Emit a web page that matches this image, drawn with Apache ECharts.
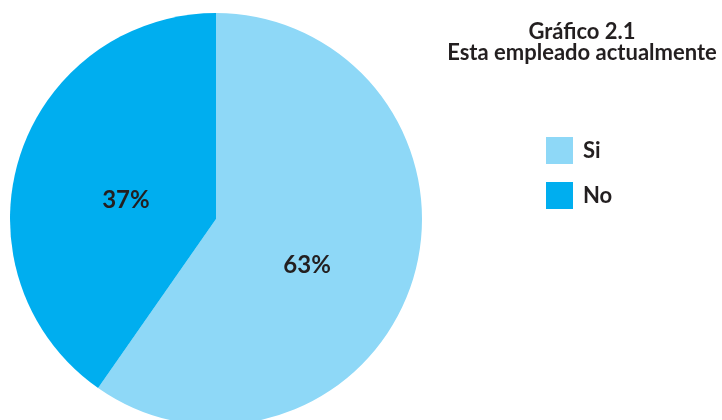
<!DOCTYPE html>
<html>
<head>
<meta charset="utf-8">
<script src="https://cdn.jsdelivr.net/npm/echarts@6/dist/echarts.min.js"></script>
<style>html,body{margin:0;padding:0;background:#fff}#c{width:722px;height:420px}</style>
</head>
<body>
<div id="c"></div>
<script>
// Data
const categories = ['Si', 'No'];
const sliceValues = [59.7, 40.3];          // slice sizes as drawn
const percentLabels = ['63%', '37%'];      // printed labels
const titleLines = ['Gráfico 2.1', 'Esta empleado actualmente'];

const colors = ['#8ED8F7', '#00AEEF'];
const labelOffsets = [[-10, 14], [11, 13]];
const FONT = 'Lato';

const chart = echarts.init(document.getElementById('c'), null, {renderer: 'canvas'});
chart.setOption({
  animation: false,
  title: {
    text: titleLines.join('\n'),
    left: 577,
    top: 16,
    textAlign: 'center',
    textStyle: {fontFamily: FONT, fontWeight: 'bold', fontSize: 22, lineHeight: 21, color: '#231F20'}
  },
  legend: {
    orient: 'vertical',
    left: 541,
    top: 132,
    itemWidth: 27,
    itemHeight: 27,
    itemGap: 18,
    icon: 'rect',
    data: categories,
    textStyle: {fontFamily: FONT, fontWeight: 'bold', fontSize: 22, color: '#231F20', padding: [0, 0, 0, 5]},
    selectedMode: false
  },
  series: [{
    type: 'pie',
    center: [216, 219],
    radius: 206,
    startAngle: 90,
    clockwise: true,
    silent: true,
    label: {
      position: 'inside',
      fontFamily: FONT, fontWeight: 'bold', fontSize: 24, color: '#231F20',
      formatter: p => percentLabels[p.dataIndex]
    },
    labelLine: {show: false},
    data: categories.map((c, i) => ({
      name: c,
      value: sliceValues[i],
      itemStyle: {color: colors[i]},
      label: {offset: labelOffsets[i]}
    }))
  }]
});
</script>
</body>
</html>
